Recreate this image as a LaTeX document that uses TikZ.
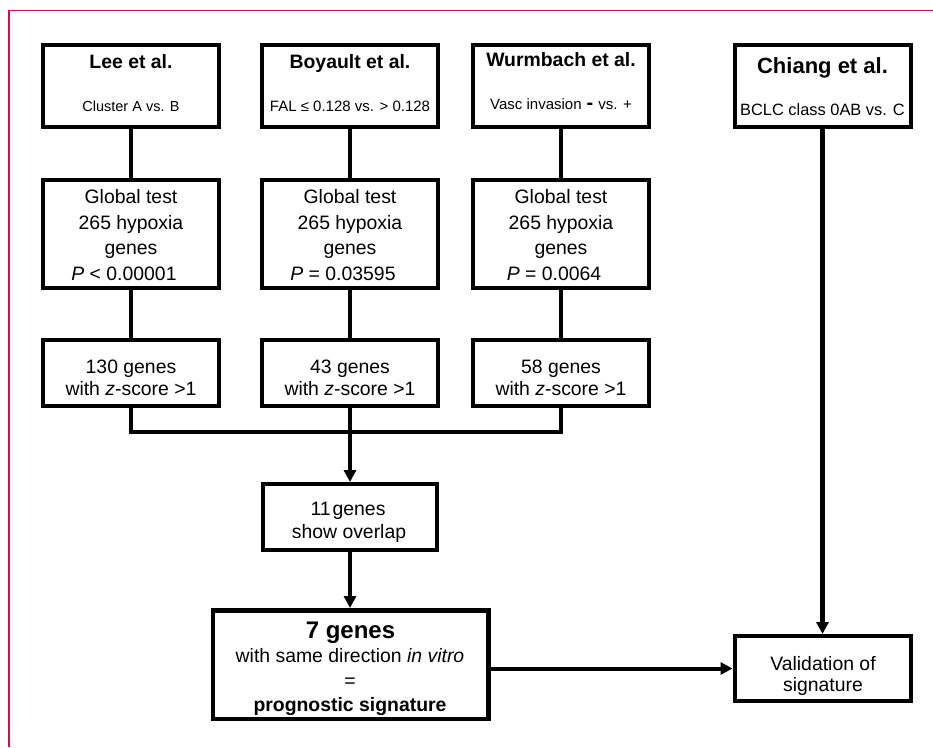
\documentclass[tikz,border=0pt]{standalone}
\usepackage{fontspec}
\setmainfont{Liberation Sans}
\usetikzlibrary{arrows.meta}
\definecolor{framered}{RGB}{204,16,72}
\begin{document}
\begin{tikzpicture}[x=1pt,y=-1pt,
  box/.style={draw,line width=4pt,inner sep=0pt,minimum width=176pt},
  tbox/.style={box,minimum height=82pt},
  gbox/.style={box,minimum height=108pt},
  zbox/.style={box,minimum height=66pt},
  conn/.style={line width=4.3pt},
  arr/.style={line width=4pt,-{Triangle[length=12pt,width=12pt]}},
  ttl/.style={anchor=base,inner sep=0pt,font=\fontsize{19.4}{20}\selectfont\bfseries},
  sub/.style={anchor=base,inner sep=0pt},
  txt/.style={anchor=base,inner sep=0pt,font=\fontsize{19.4}{20}\selectfont},
]
\useasboundingbox (0,0) rectangle (933,747);
\fill[white] (0,0) rectangle (933,747);
% frame (only top and left edges visible)
\draw[framered,line width=1.2pt] (9,747) -- (9,10.5) -- (933,10.5);

% study boxes
\node[tbox] (ta) at (131,86) {};
\node[tbox] (tb) at (350,86) {};
\node[tbox] (tc) at (561,86) {};
\node[tbox] (td) at (822.5,86) {};
\node[ttl] (tat) at (131,68) {Lee et al.};
\node[ttl] (tbt) at (350,68) {Boyault et al.};
\node[ttl] (tct) at (561,66) {Wurmbach et al.};
\node[ttl,font=\fontsize{22}{24}\selectfont\bfseries] (tdt) at (822.5,73) {Chiang et al.};
\node[sub,font=\fontsize{14.5}{16}\selectfont] (tas) at (131,111) {Cluster A vs. B};
\node[sub,font=\fontsize{15}{16}\selectfont] (tbs) at (350,111) {FAL ≤ 0.128 vs. > 0.128};
\node[sub,font=\fontsize{15}{16}\selectfont] (tcs) at (561,109) {Vasc invasion\hspace{5pt}{\fontsize{20}{20}\selectfont\bfseries -}\hspace{5pt}vs. +};
\node[sub,font=\fontsize{16.4}{18}\selectfont] (tds) at (822.5,115) {BCLC class 0AB vs. C};

% global test boxes
\node[gbox] (ga) at (131,234) {};
\node[gbox] (gb) at (350,234) {};
\node[gbox] (gc) at (561,234) {};
\foreach \c/\x/\pv in {a/131/{\textit{P} < 0.00001}, b/350/{\textit{P} = 0.03595}, c/561/{\textit{P} = 0.0064}} {
  \node[txt] (g\c1) at (\x,203.5) {Global test};
  \node[txt] (g\c2) at (\x,229) {265 hypoxia};
  \node[txt] (g\c3) at (\x,254.5) {genes};
  \node[txt] (g\c4) at (\x-7,280) {\pv};
}

% z-score boxes
\node[zbox] (za) at (131,373) {};
\node[zbox] (zb) at (350,373) {};
\node[zbox] (zc) at (561,373) {};
\foreach \c/\x/\n in {a/131/130, b/350/43, c/561/58} {
  \node[txt] (z\c1) at (\x,373) {\n\ genes};
  \node[txt] (z\c2) at (\x,395) {with \textit{z}-score >1};
}

% overlap box
\node[box,minimum width=174pt,minimum height=66pt] (ov) at (350,517) {};
\node[txt] (ov1) at (348,515) {11\hspace{2pt}genes};
\node[txt] (ov2) at (349,538) {show overlap};

% signature box
\node[box,line width=4.5pt,minimum width=275.5pt,minimum height=108.5pt] (sev) at (350.5,664.5) {};
\node[txt,font=\fontsize{24}{26}\selectfont\bfseries] (sev1) at (350.5,638) {7 genes};
\node[txt] (sev2) at (350,662.5) {with same direction \textit{in vitro}};
\node[txt] (sev3) at (350,687) {=};
\node[txt,font=\fontsize{19.4}{20}\selectfont\bfseries] (sev4) at (350,711) {prognostic signature};

% validation box
\node[box,minimum height=65pt] (val) at (822.5,668.5) {};
\node[txt] (val1) at (823,670) {Validation of};
\node[txt] (val2) at (823,691) {signature};

% connectors
\draw[conn] (ta.south) -- (ga.north);
\draw[conn] (tb.south) -- (gb.north);
\draw[conn] (tc.south) -- (gc.north);
\draw[conn] (ga.south) -- (za.north);
\draw[conn] (gb.south) -- (zb.north);
\draw[conn] (gc.south) -- (zc.north);
\coordinate (j) at (350,432);
\draw[conn] (za.south) |- (j) -| (zc.south);
\draw[arr] (zb.south) -- (ov.north);
\draw[arr] (ov.south) -- (ov.south |- sev.north);
\draw[arr] (sev.east |- val.west) -- (val.west);
\draw[arr,line width=5pt] (td.south) -- (val.north);
\end{tikzpicture}
\end{document}
